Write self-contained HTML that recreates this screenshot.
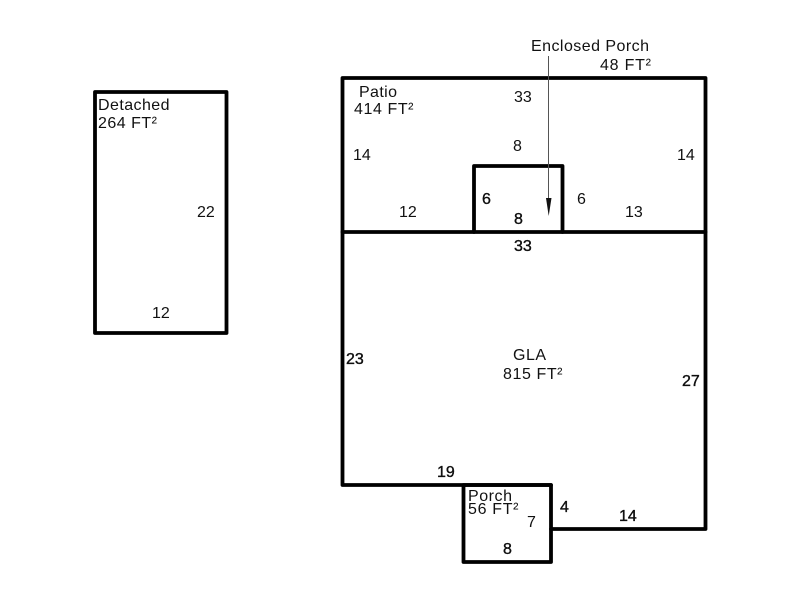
<!DOCTYPE html>
<html><head><meta charset="utf-8"><style>
html,body{margin:0;padding:0;background:#fff}
svg{display:block}
text{font-family:"Liberation Sans",Arial,sans-serif;font-size:16px;fill:#111}
.t{font-size:16px;stroke:#000;stroke-width:.35px}
</style></head><body>
<svg width="800" height="600" viewBox="0 0 800 600">
<g fill="none" stroke="#000" stroke-width="3.8" stroke-linejoin="round" stroke-linecap="round">
<rect x="95" y="92" width="131.500" height="241"/>
<rect x="342.500" y="78" width="363" height="154"/>
<polyline points="474,232 474,166 562.500,166 562.500,232"/>
<polyline points="342.500,232 342.500,485 551,485"/>
<polyline points="705.500,232 705.500,529 551,529"/>
<rect x="463.500" y="485" width="87.500" height="77"/>
</g>
<line x1="548.500" y1="56" x2="548.500" y2="200" stroke="#555" stroke-width="1"/>
<polygon points="546,198 551.500,198 548.700,216" fill="#111"/>
<text x="98" y="110" textLength="71.500" lengthAdjust="spacing">Detached</text>
<text x="98" y="128" textLength="59" lengthAdjust="spacing">264 FT²</text>
<text x="197" y="217">22</text>
<text x="152" y="318">12</text>
<text x="531" y="51" textLength="118" lengthAdjust="spacing">Enclosed Porch</text>
<text x="600" y="70" textLength="51" lengthAdjust="spacing">48 FT²</text>
<text x="359" y="97" textLength="38" lengthAdjust="spacing">Patio</text>
<text x="354" y="114" textLength="59.500" lengthAdjust="spacing">414 FT²</text>
<text x="514" y="102">33</text>
<text x="513" y="151">8</text>
<text x="353" y="160">14</text>
<text x="677" y="160">14</text>
<text x="399" y="217">12</text>
<text x="625" y="217">13</text>
<text x="577" y="204">6</text>
<text class="t" x="482" y="204">6</text>
<text class="t" x="514" y="224">8</text>
<text class="t" x="514" y="251">33</text>
<text x="513" y="360" textLength="33" lengthAdjust="spacing">GLA</text>
<text x="503" y="379" textLength="59.500" lengthAdjust="spacing">815 FT²</text>
<text class="t" x="346" y="364">23</text>
<text class="t" x="682" y="386">27</text>
<text class="t" x="437" y="477">19</text>
<text x="468" y="501" textLength="44" lengthAdjust="spacing">Porch</text>
<text x="468" y="514" textLength="50.500" lengthAdjust="spacing">56 FT²</text>
<text x="527" y="527">7</text>
<text class="t" x="560" y="512">4</text>
<text class="t" x="619" y="521">14</text>
<text class="t" x="503" y="554">8</text>
</svg>
</body></html>
